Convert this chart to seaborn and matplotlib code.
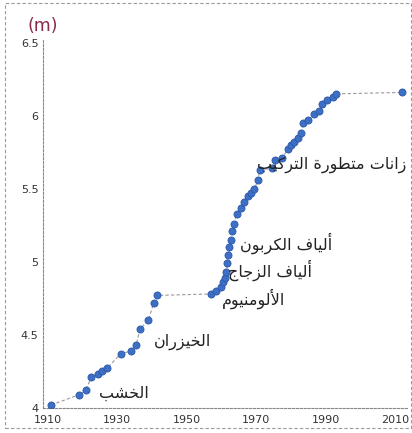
import pandas as pd
import seaborn as sns
import matplotlib.pyplot as plt
from matplotlib.patches import Rectangle

sns.set_theme(style='white')
plt.rcParams['font.family'] = ['DejaVu Sans']

# pole vault record progression
years = [1911, 1919, 1921, 1922.5, 1924.5, 1925.5, 1927, 1931, 1934, 1935.5, 1936.5, 1939, 1940.5, 1941.5,
         1957, 1958.5, 1960, 1960.5, 1961, 1961.4, 1961.7, 1962, 1962.3, 1962.6, 1963, 1963.5, 1964.5,
         1965.5, 1966.5, 1967.5, 1968.5, 1969.5, 1970.5, 1971, 1974.5, 1975.5, 1977.5, 1979, 1980, 1981,
         1982, 1983, 1983.5, 1985, 1986.5, 1988, 1989, 1990.5, 1992, 1993, 2012]
heights = [4.02, 4.09, 4.12, 4.21, 4.23, 4.25, 4.27, 4.37, 4.39, 4.43, 4.54, 4.60, 4.72, 4.77,
           4.78, 4.80, 4.83, 4.86, 4.89, 4.93, 4.99, 5.05, 5.10, 5.15, 5.21, 5.26, 5.33,
           5.37, 5.41, 5.45, 5.47, 5.50, 5.56, 5.63, 5.64, 5.70, 5.71, 5.77, 5.80, 5.82,
           5.85, 5.88, 5.95, 5.97, 6.01, 6.03, 6.08, 6.11, 6.13, 6.15, 6.16]

x_ticks = [1910, 1930, 1950, 1970, 1990, 2010]
y_ticks = [4, 4.5, 5, 5.5, 6, 6.5]
y_tick_labels = ['4', '4.5', '5', '5.5', '6', '6.5']

# pole materials and where they sit
labels = ['الخشب', 'الخيزران', 'الألومنيوم', 'ألياف الزجاج', 'ألياف الكربون', 'زانات متطورة التركيب']
label_x = [1931.8, 1948.8, 1969.2, 1974.0, 1978.5, 1991.8]
label_y = [4.10, 4.45, 4.75, 4.945, 5.13, 5.665]

# matplotlib has no arabic shaping: map letters to presentation forms and reverse
FORMS = {
    'ا': ('\uFE8D', '\uFE8E', None, None),
    'أ': ('\uFE83', '\uFE84', None, None),
    'ب': ('\uFE8F', '\uFE90', '\uFE91', '\uFE92'),
    'ة': ('\uFE93', '\uFE94', None, None),
    'ت': ('\uFE95', '\uFE96', '\uFE97', '\uFE98'),
    'ج': ('\uFE9D', '\uFE9E', '\uFE9F', '\uFEA0'),
    'خ': ('\uFEA5', '\uFEA6', '\uFEA7', '\uFEA8'),
    'ر': ('\uFEAD', '\uFEAE', None, None),
    'ز': ('\uFEAF', '\uFEB0', None, None),
    'ش': ('\uFEB5', '\uFEB6', '\uFEB7', '\uFEB8'),
    'ط': ('\uFEC1', '\uFEC2', '\uFEC3', '\uFEC4'),
    'ف': ('\uFED1', '\uFED2', '\uFED3', '\uFED4'),
    'ك': ('\uFED9', '\uFEDA', '\uFEDB', '\uFEDC'),
    'ل': ('\uFEDD', '\uFEDE', '\uFEDF', '\uFEE0'),
    'م': ('\uFEE1', '\uFEE2', '\uFEE3', '\uFEE4'),
    'ن': ('\uFEE5', '\uFEE6', '\uFEE7', '\uFEE8'),
    'و': ('\uFEED', '\uFEEE', None, None),
    'ي': ('\uFEF1', '\uFEF2', '\uFEF3', '\uFEF4'),
}
LAM_ALEF = {'ا': ('\uFEFB', '\uFEFC'), 'أ': ('\uFEF7', '\uFEF8')}


def shape(text):
    out = []
    i = 0
    prev_joins = False
    while i < len(text):
        c = text[i]
        if c not in FORMS:
            out.append(c)
            prev_joins = False
            i += 1
            continue
        if c == 'ل' and i + 1 < len(text) and text[i + 1] in LAM_ALEF:
            iso, fin = LAM_ALEF[text[i + 1]]
            out.append(fin if prev_joins else iso)
            prev_joins = False
            i += 2
            continue
        iso, fin, ini, med = FORMS[c]
        nxt = text[i + 1] if i + 1 < len(text) else ''
        next_ok = ini is not None and nxt in FORMS
        if prev_joins and next_ok:
            out.append(med)
        elif prev_joins:
            out.append(fin)
        elif next_ok:
            out.append(ini)
        else:
            out.append(iso)
        prev_joins = next_ok
        i += 1
    return ''.join(reversed(out))


df = pd.DataFrame({'year': years, 'height': heights})

fig = plt.figure(figsize=(4.12, 4.33), dpi=100)
ax = fig.add_axes([0.104, 0.058, 0.884, 0.85])

sns.lineplot(data=df, x='year', y='height', ax=ax, color='#9a9a9a', lw=0.8, linestyle=(0, (3, 2)))
sns.scatterplot(data=df, x='year', y='height', ax=ax, color='#3d6fc4', edgecolor='#2c57a8',
                linewidth=0.6, s=26, zorder=3)

for txt, lx, ly in zip(labels, label_x, label_y):
    ax.text(lx, ly, shape(txt), ha='center', va='center', fontsize=11.5, color='#222222', zorder=4)

ax.set_xlim(1908.6, 2013.4)
ax.set_ylim(4, 6.52)
ax.set_xticks(x_ticks)
ax.set_yticks(y_ticks)
ax.set_yticklabels(y_tick_labels)
ax.set(xlabel='', ylabel='')
ax.tick_params(length=0, labelsize=8, colors='#333333')
ax.tick_params(axis='x', pad=5)
ax.tick_params(axis='y', pad=3)

sns.despine(ax=ax)
for side in ['left', 'bottom']:
    ax.spines[side].set_color('#888888')
    ax.spines[side].set_linestyle((0, (2, 1.5)))
    ax.spines[side].set_linewidth(0.8)

fig.text(0.104, 0.94, '(m)', ha='center', va='center', fontsize=12.5, color='#8b2a4a')

# dashed frame of the scanned page
fig.patches.append(Rectangle((0.012, 0.012), 0.985, 0.98, transform=fig.transFigure, fill=False,
                             edgecolor='#999999', lw=0.8, linestyle=(0, (3, 2))))

plt.savefig('out.png', dpi=100)
